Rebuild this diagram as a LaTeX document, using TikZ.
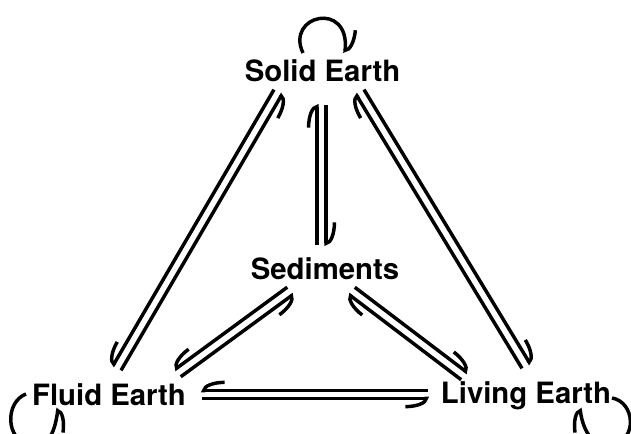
\documentclass[tikz,border=0pt]{standalone}
\usepackage{fontspec}
\setmainfont{TeX Gyre Heros}
\usepackage{tikz}
\usetikzlibrary{arrows.meta,calc}

\begin{document}
\begin{tikzpicture}[x=0.75pt,y=-0.75pt,
  sphere/.style={font=\bfseries\fontsize{22}{26}\selectfont,anchor=base,inner sep=0pt},
  flux/.style={line width=2.6pt},
  harpl/.style={flux,-{Arc Barb[harpoon,length=17pt,width=15pt]}},
  harpr/.style={flux,-{Arc Barb[harpoon,swap,length=17pt,width=15pt]}}]
  \useasboundingbox (0,0) rectangle (631,434);
  \node[sphere] (solid) at (322.5,82) {Solid Earth};
  \node[sphere] (sed) at (325,280) {Sediments};
  \node[sphere] (fluid) at (109,405) {Fluid Earth};
  \node[sphere] (living) at (526,403) {Living Earth};
  % ends of the exchange arrows
  \coordinate (ss1) at ($(solid.base)+(-1,23)$);
  \coordinate (ss2) at ($(sed.base)+(-3.5,-35)$);
  \coordinate (sf1) at ($(solid.base)+(-44.5,10)$);
  \coordinate (sf2) at ($(fluid.base)+(8,-37)$);
  \coordinate (sl1) at ($(solid.base)+(37.5,10)$);
  \coordinate (sl2) at ($(living.base)+(0,-37)$);
  \coordinate (df1) at ($(sed.base)+(-35,11)$);
  \coordinate (df2) at ($(fluid.base)+(69,-32)$);
  \coordinate (dl1) at ($(sed.base)+(27,11)$);
  \coordinate (dl2) at ($(living.base)+(-62,-27)$);
  \coordinate (fl1) at ($(fluid.base)+(93,-10.5)$);
  \coordinate (fl2) at ($(living.base)+(-98,-8.5)$);
  % solid <-> sediments
  \draw[harpl] ($(ss1)!3.5pt!90:(ss2)$) -- ($(ss2)!3.5pt!-90:(ss1)$);
  \draw[harpl] ($(ss2)!3.5pt!90:(ss1)$) -- ($(ss1)!3.5pt!-90:(ss2)$);
  % solid <-> fluid
  \draw[harpr] ($(sf1)!3.5pt!-90:(sf2)$) -- ($(sf2)!3.5pt!90:(sf1)$);
  \draw[harpr] ($(sf2)!3.5pt!-90:(sf1)$) -- ($(sf1)!3.5pt!90:(sf2)$);
  % solid <-> living
  \draw[harpl] ($(sl1)!3.5pt!90:(sl2)$) -- ($(sl2)!3.5pt!-90:(sl1)$);
  \draw[harpl] ($(sl2)!3.5pt!90:(sl1)$) -- ($(sl1)!3.5pt!-90:(sl2)$);
  % sediments <-> fluid
  \draw[harpr] ($(df1)!3.5pt!-90:(df2)$) -- ($(df2)!3.5pt!90:(df1)$);
  \draw[harpr] ($(df2)!3.5pt!-90:(df1)$) -- ($(df1)!3.5pt!90:(df2)$);
  % sediments <-> living
  \draw[harpl] ($(dl1)!3.5pt!90:(dl2)$) -- ($(dl2)!3.5pt!-90:(dl1)$);
  \draw[harpl] ($(dl2)!3.5pt!90:(dl1)$) -- ($(dl1)!3.5pt!-90:(dl2)$);
  % fluid <-> living
  \draw[harpr] ($(fl1)!2.9pt!-90:(fl2)$) -- ($(fl2)!2.9pt!90:(fl1)$);
  \draw[harpr] ($(fl2)!2.9pt!-90:(fl1)$) -- ($(fl1)!2.9pt!90:(fl2)$);
  % self loops
  \draw[harpl] ($(solid.base)+(-19.5,-29)$) .. controls ($(solid.base)+(-37.5,-67)$) and ($(solid.base)+(27.5,-82)$) .. ($(solid.base)+(22.5,-30)$);
  \draw[harpr] ($(fluid.base)+(-83,-11)$) .. controls ($(fluid.base)+(-104,-3)$) and ($(fluid.base)+(-104,35)$) .. ($(fluid.base)+(-79,40)$)
    .. controls ($(fluid.base)+(-59,43)$) and ($(fluid.base)+(-54,25)$) .. ($(fluid.base)+(-51,4)$);
  \draw[harpl] ($(living.base)+(86,-5)$) .. controls ($(living.base)+(109,-1)$) and ($(living.base)+(112,37)$) .. ($(living.base)+(86,42)$)
    .. controls ($(living.base)+(66,45)$) and ($(living.base)+(57,27)$) .. ($(living.base)+(54,6)$);
\end{tikzpicture}
\end{document}
